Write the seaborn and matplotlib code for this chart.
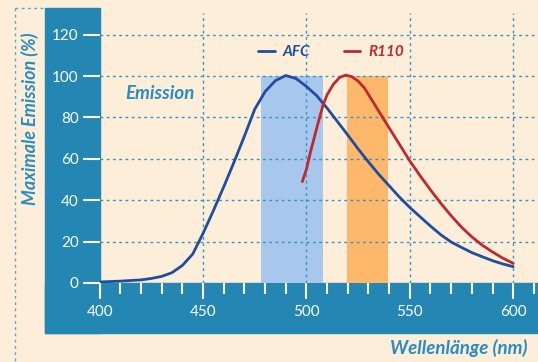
import matplotlib
matplotlib.use("Agg")
import matplotlib.pyplot as plt
from matplotlib.patches import Rectangle
from matplotlib.lines import Line2D
from matplotlib.ticker import MultipleLocator
import pandas as pd
import seaborn as sns

# === DATA ===
afc_nm = [400, 410, 420, 425, 430, 435, 440, 445, 450, 455, 460, 465, 470, 475,
          480, 485, 490, 495, 500, 505, 510, 515, 520, 525, 530, 535, 540, 545,
          550, 555, 560, 565, 570, 575, 580, 585, 590, 595, 600]
afc_em = [0.5, 0.9, 1.5, 2.2, 3.2, 5.0, 8.5, 14, 24, 35, 46.5, 58.5, 71, 84,
          92.5, 97.8, 100.3, 98.8, 95, 90.5, 84.5, 78, 71.5, 64.8, 58.5, 52.5, 47, 41.5,
          36.5, 32, 27.5, 23.3, 19.8, 17.2, 14.7, 12.7, 10.8, 9.2, 7.9]

r110_nm = [498, 500, 502, 505, 508, 510, 513, 516, 519, 522, 525, 528, 531, 535,
           540, 545, 550, 555, 560, 565, 570, 575, 580, 585, 590, 595, 600]
r110_em = [49, 55, 63.5, 75, 86, 91, 96, 99.3, 100.5, 99.7, 97.6, 94.3, 89.5, 83,
           75, 67, 59, 51.8, 45, 38.5, 32.5, 27, 22.3, 18.3, 15, 12, 9.5]

# filter windows (nm)
band_lo = [478, 519.5]
band_hi = [508, 539.5]
band_top = 100
band_colors = ["#a7c8ec", "#fdb86b"]

series_names = ["AFC", "R110"]
line_colors = ["#1f4d9f", "#c0282e"]

x_ticks = [400, 450, 500, 550, 600]
y_ticks = [0, 20, 40, 60, 80, 100, 120]

# === STYLE ===
sns.set_style("white")
plt.rcParams["font.family"] = ["Lato", "DejaVu Sans"]

CREAM = "#fdeeda"
BAND = "#2386b3"
TXT = "#2a8cc0"
GRID = "#3b90c0"

fig = plt.figure(figsize=(5.38, 3.62), dpi=100, facecolor=CREAM)
W, H = 538.0, 362.0

def fx(px):
    return px / W

def fy(py):
    return 1 - py / H

# blue bands + dotted frame (figure decoration)
fig.patches.append(Rectangle((fx(45), fy(333)), fx(99.7) - fx(45), fy(8) - fy(333),
                             transform=fig.transFigure, color=BAND, zorder=-1))
fig.patches.append(Rectangle((fx(45), fy(333)), 1 - fx(45), fy(283) - fy(333),
                             transform=fig.transFigure, color=BAND, zorder=-1))
fig.lines.append(Line2D([fx(15), fx(15)], [fy(8), 0], transform=fig.transFigure,
                        color=GRID, lw=1, ls=(0, (2, 2.5)), alpha=0.8))
fig.lines.append(Line2D([fx(15), fx(45)], [fy(8), fy(8)], transform=fig.transFigure,
                        color=GRID, lw=1, ls=(0, (2, 2.5)), alpha=0.8))

ax = fig.add_axes([fx(99.7), fy(283), 1 - fx(99.7), fy(13) - fy(283)])
ax.set_facecolor("none")
ax.set_xlim(400, 612)
ax.set_ylim(0, 130.5)
for s in ax.spines.values():
    s.set_visible(False)

# filter windows
for lo, hi, c in zip(band_lo, band_hi, band_colors):
    ax.fill_between([lo, hi], 0, band_top, color=c, lw=0, zorder=1)

# grid
ax.set_xticks(x_ticks)
ax.set_yticks(y_ticks)
ax.xaxis.set_minor_locator(MultipleLocator(10))
ax.grid(True, which="major", color=GRID, lw=1, ls=(0, (2, 2.5)), zorder=2)
ax.set_axisbelow(False)
ax.xaxis.get_gridlines()[0].set_visible(False)
ax.yaxis.get_gridlines()[0].set_visible(False)

# curves
df = pd.concat([
    pd.DataFrame({"nm": afc_nm, "em": afc_em, "dye": series_names[0]}),
    pd.DataFrame({"nm": r110_nm, "em": r110_em, "dye": series_names[1]}),
])
sns.lineplot(data=df, x="nm", y="em", hue="dye", palette=line_colors, lw=2,
             ax=ax, legend=False, zorder=3, sort=False)

# ticks
ax.tick_params(axis="y", left=True, colors="white", length=12, width=1.5, pad=3,
               labelsize=11)
ax.tick_params(axis="x", which="major", bottom=True, colors="white", length=11.5,
               width=1.5, pad=4, labelsize=11)
ax.tick_params(axis="x", which="minor", bottom=True, colors="white", length=8, width=1.5)
for t in ax.get_xticklabels() + ax.get_yticklabels():
    t.set_color("white")
ax.set_xlabel("")
ax.set_ylabel("")

# labels
fig.text(fx(30), fy(119), "Maximale Emission (%)", rotation=90, ha="center", va="center",
         color=TXT, fontsize=13, fontweight="bold", style="italic")
fig.text(fx(527), fy(348), "Wellenlänge (nm)", ha="right", va="center",
         color=TXT, fontsize=13.5, fontweight="bold", style="italic")
ax.text(412.5, 91.5, "Emission", ha="left", va="center", color=TXT,
        fontsize=13.5, fontweight="bold", style="italic")

# legend
handles = [Line2D([], [], color=c, lw=2) for c in line_colors]
leg = ax.legend(handles, series_names, ncol=2, frameon=False, loc="center left",
                bbox_to_anchor=(fx(258), fy(52)), bbox_transform=fig.transFigure,
                handlelength=1.1, handletextpad=0.5, columnspacing=2.2,
                borderpad=0, borderaxespad=0,
                prop={"weight": "bold", "style": "italic", "size": 11})
for t, c in zip(leg.get_texts(), line_colors):
    t.set_color(c)

fig.savefig("out.png", dpi=100, facecolor=CREAM)
